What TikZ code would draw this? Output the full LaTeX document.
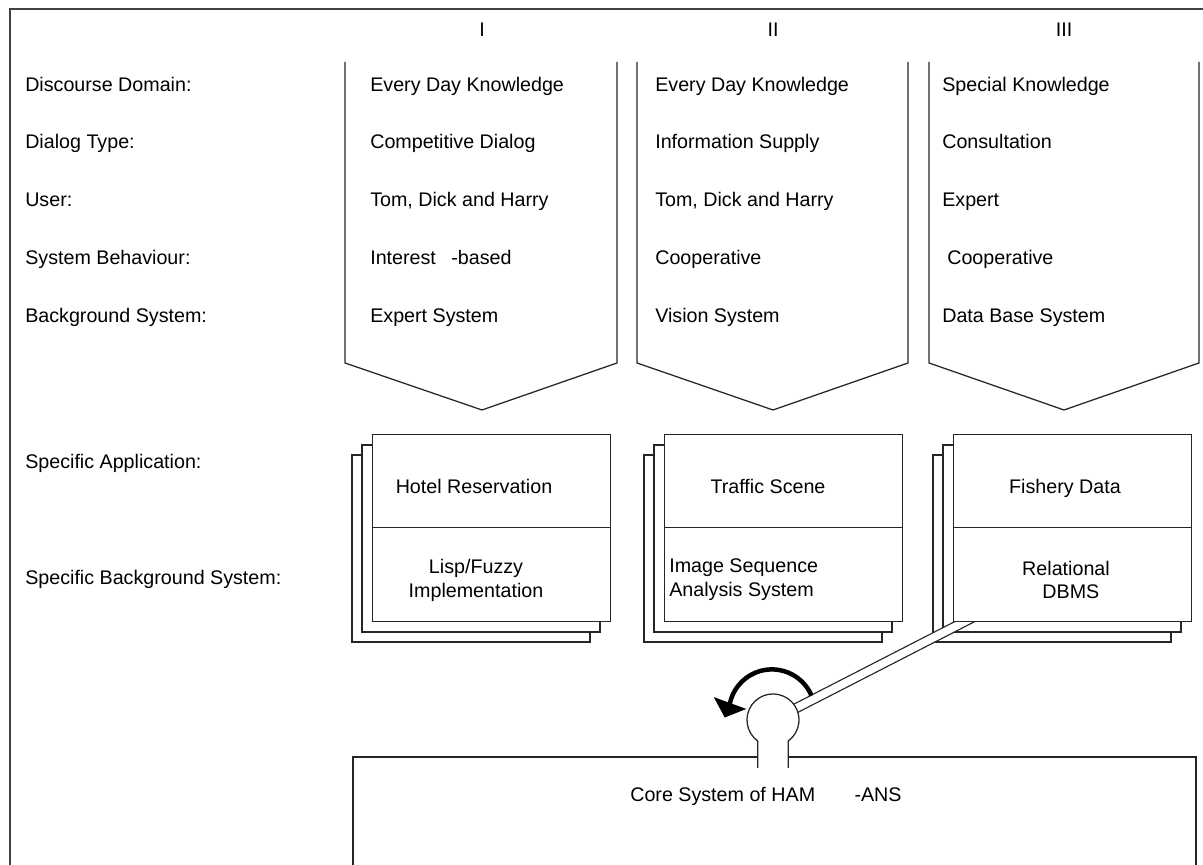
\documentclass[tikz,border=0pt]{standalone}
\usepackage{fontspec}
\setmainfont{Liberation Sans}
\usetikzlibrary{positioning,arrows.meta,calc}

\begin{document}
\begin{tikzpicture}[x=0.025cm, y=0.025cm, font=\fontsize{14}{17}\selectfont,
    frameline/.style={line width=1.2pt, draw=black!75},
    outline/.style={line width=0.9pt, draw=black!85},
    sheet/.style={outline, fill=white},
    rowtext/.style={anchor=base west, inner sep=0pt},
    celltext/.style={anchor=base, inner sep=0pt},
    appbox/.style={sheet, anchor=south west, minimum width=5.95cm, minimum height=4.675cm}]
\useasboundingbox (0,0) rectangle (1203,865);
\draw[frameline] (10,0) -- (10,856) -- (1203,856);
% column heads
\node[celltext] (hdI)   at (482,828)  {I};
\node[celltext] (hdII)  at (773,828)  {II};
\node[celltext] (hdIII) at (1064,828) {III};
% row labels
\node[rowtext] (dd)  at (25,773) {Discourse Domain:};
\node[rowtext] (dt)  at (25,716) {Dialog Type:};
\node[rowtext] (us)  at (25,658) {User:};
\node[rowtext] (sb)  at (25,600) {System Behaviour:};
\node[rowtext] (bs)  at (25,542) {Background System:};
\node[rowtext] (sa)  at (25,396) {Specific Application:};
\node[rowtext] (sbs) at (25,280) {Specific Background System:};
% column I
\node[rowtext] (ddI) at (370,773) {Every Day Knowledge};
\node[rowtext] (dtI) at (370,716) {Competitive Dialog};
\node[rowtext] (usI) at (370,658) {Tom, Dick and Harry};
\node[rowtext] (sbI) at (370,600) {Interest\hspace{11pt}-based};
\node[rowtext] (bsI) at (370,542) {Expert System};
% column II
\node[rowtext] (ddII) at (655,773) {Every Day Knowledge};
\node[rowtext] (dtII) at (655,716) {Information Supply};
\node[rowtext] (usII) at (655,658) {Tom, Dick and Harry};
\node[rowtext] (sbII) at (655,600) {Cooperative};
\node[rowtext] (bsII) at (655,542) {Vision System};
% column III
\node[rowtext] (ddIII) at (942,773) {Special Knowledge};
\node[rowtext] (dtIII) at (942,716) {Consultation};
\node[rowtext] (usIII) at (942,658) {Expert};
\node[rowtext] (sbIII) at (947,600) {Cooperative};
\node[rowtext] (bsIII) at (942,542) {Data Base System};
% arrows of the columns
\draw[outline] (345,803) -- (345,502) -- (482,455) -- (617,502) -- (617,803);
\draw[outline] (637,803) -- (637,502) -- (773,455) -- (908,502) -- (908,803);
\draw[outline] (929,803) -- (929,502) -- (1064,455) -- (1199,502) -- (1199,803);
% stacked sheets
\foreach \c in {372,664,953}
  \foreach \d in {20,10}
    \draw[sheet] (\c-\d,243-\d) rectangle ++(238,187);
\coordinate (knob) at (773,145);
\coordinate (bandend) at (1000,261.5);
\draw[outline, double=white, double distance=5.5pt] (knob) -- (bandend);
\node[appbox] (appI)   at (372,243) {};
\node[appbox] (appII)  at (664,243) {};
\node[appbox] (appIII) at (953,243) {};
\draw[outline] (appI.west) -- (appI.east);
\draw[outline] (appII.west) -- (appII.east);
\draw[outline] (appIII.west) -- (appIII.east);
\node[celltext] (hotel)   at (474,371)  {Hotel Reservation};
\node[celltext] (traffic) at (768,371)  {Traffic Scene};
\node[celltext] (fishery) at (1065,371) {Fishery Data};
\node[align=center] (lisp) at (476,285) {Lisp/Fuzzy\\Implementation};
\node[align=left, anchor=west, inner sep=0pt] (image) at (669,285) {Image Sequence\\Analysis System};
\node[align=center] (dbms) at (1066,285) {Relational\\\hspace*{0.5em}DBMS};
% core system
\draw[outline] (353,0) -- (353,108) -- (1196,108) -- (1196,0);
\node[rowtext] (core) at (630,63) {Core System of HAM\hspace{28pt}-ANS};
\filldraw[outline, fill=white] (757.7,97) -- (757.7,124) arc[start angle=234, end angle=-54, radius=26] -- (788.3,97);
\draw[line width=3.2pt, -{Triangle[width=24pt,length=11pt]}]
    (811.5,169.4) arc[start angle=23, end angle=168, radius=43] -- ++(250:15);
\end{tikzpicture}
\end{document}
